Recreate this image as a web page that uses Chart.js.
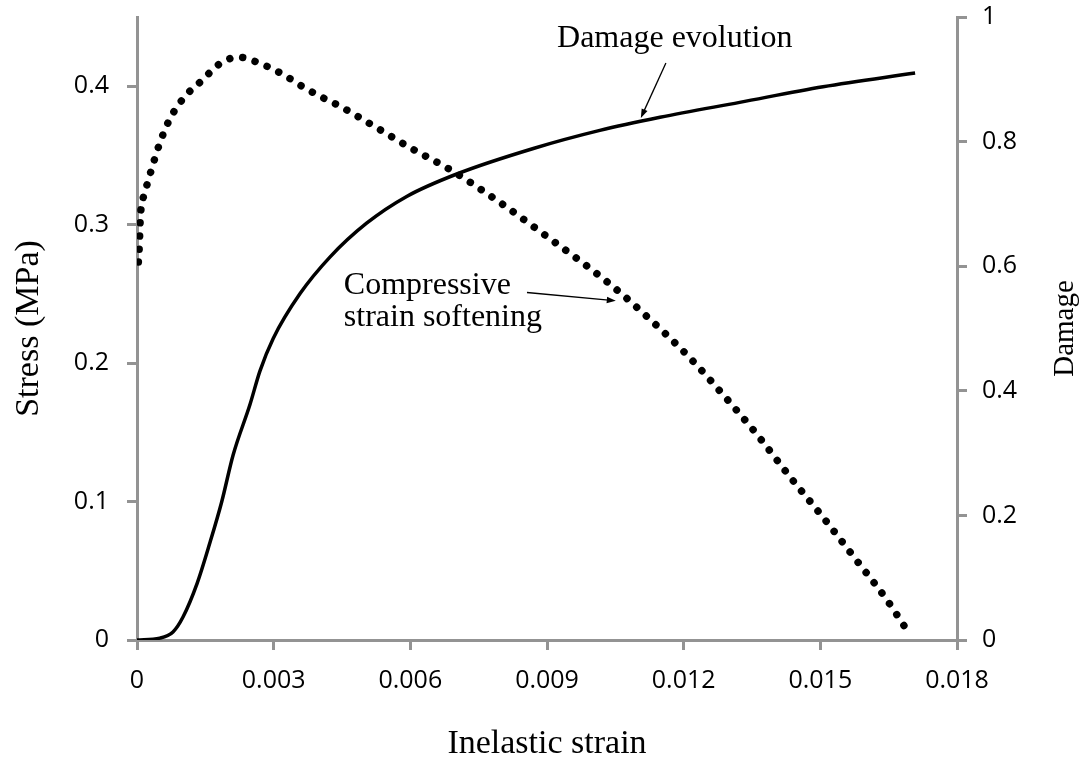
<!DOCTYPE html>
<html>
<head>
<meta charset="utf-8">
<script src="https://cdn.jsdelivr.net/npm/chart.js@4.4.1/dist/chart.umd.min.js"></script>
<style>
  html, body { margin: 0; padding: 0; background: #fff; }
  #wrap { width: 1087px; height: 761px; }
</style>
</head>
<body>
<div id="wrap"><canvas id="chart" width="1087" height="761"></canvas></div>
<script>
  const stressStrain = [0.00003, 0.00005, 0.00007, 0.00009, 0.00015, 0.00023, 0.00031, 0.00048, 0.00070, 0.00101,
    0.00142, 0.00185, 0.00224, 0.00266, 0.00318, 0.00367, 0.00418, 0.00443, 0.00516, 0.00592,
    0.00691, 0.00788, 0.00881, 0.01042, 0.01128, 0.01210, 0.01287, 0.01362, 0.01433, 0.01505,
    0.01576, 0.01646, 0.01693];
  const stressValues = [0.273, 0.284, 0.303, 0.312, 0.321, 0.330, 0.339, 0.357, 0.375, 0.391,
    0.404, 0.417, 0.421, 0.417, 0.409, 0.399, 0.390, 0.386, 0.372, 0.357,
    0.339, 0.318, 0.296, 0.256, 0.231, 0.205, 0.177, 0.148, 0.118, 0.089,
    0.059, 0.029, 0.0056];

  const damageStrain = [0, 0.00050, 0.00079, 0.00101, 0.00132, 0.00160, 0.00186, 0.00211, 0.00248, 0.00270,
    0.00299, 0.00358, 0.00424, 0.00504, 0.00592, 0.00702, 0.00870, 0.01016, 0.01148, 0.01323,
    0.01506, 0.01708];
  const damageValues = [0, 0.003, 0.013, 0.037, 0.091, 0.156, 0.222, 0.297, 0.378, 0.432,
    0.484, 0.556, 0.615, 0.669, 0.712, 0.748, 0.789, 0.818, 0.839, 0.863,
    0.888, 0.910];

  const xTicks = [0, 0.003, 0.006, 0.009, 0.012, 0.015, 0.018];
  const stressTicks = [0, 0.1, 0.2, 0.3, 0.4];
  const damageTicks = [0, 0.2, 0.4, 0.6, 0.8, 1];

  const axisGray = '#939393';
  const tickFont = { family: '"Open Sans", sans-serif', size: 25 };
  const serif = '"Liberation Serif", "Times New Roman", serif';

  function fmt(v) {
    if (v === 0) return '0';
    return parseFloat(v.toFixed(3)).toString();
  }

  // no extra room for the end tick labels, plot area is set by hand
  function noPad(axis) {
    axis.paddingTop = 0;
    axis.paddingBottom = 0;
    axis.paddingLeft = 0;
    axis.paddingRight = 0;
  }

  // annotations + right title (reads bottom-to-top like the left one)
  const notes = {
    id: 'notes',
    afterDraw(chart) {
      const ctx = chart.ctx;
      const x = chart.scales.x, yS = chart.scales.yStress, yD = chart.scales.yDamage;
      ctx.save();
      ctx.fillStyle = '#000';
      ctx.font = '32px ' + serif;
      ctx.textAlign = 'left';
      ctx.textBaseline = 'alphabetic';
      ctx.fillText('Damage evolution', x.getPixelForValue(0.00922), yD.getPixelForValue(0.952));
      ctx.fillText('Compressive', x.getPixelForValue(0.00454), yS.getPixelForValue(0.250));
      ctx.fillText('strain softening', x.getPixelForValue(0.00454), yS.getPixelForValue(0.227));

      arrow(ctx, x.getPixelForValue(0.01161), yD.getPixelForValue(0.926),
                 x.getPixelForValue(0.01106), yD.getPixelForValue(0.838));
      arrow(ctx, x.getPixelForValue(0.00856), yS.getPixelForValue(0.251),
                 x.getPixelForValue(0.01051), yS.getPixelForValue(0.245));

      ctx.font = '29px ' + serif;
      ctx.textAlign = 'center';
      ctx.translate(1073, (chart.chartArea.top + chart.chartArea.bottom) / 2);
      ctx.rotate(-Math.PI / 2);
      ctx.fillText('Damage', 0, 0);
      ctx.restore();
    }
  };

  function arrow(ctx, x1, y1, x2, y2) {
    const a = Math.atan2(y2 - y1, x2 - x1);
    const len = 9, w = 3.2;
    ctx.strokeStyle = '#000';
    ctx.lineWidth = 1.3;
    ctx.beginPath();
    ctx.moveTo(x1, y1);
    ctx.lineTo(x2 - Math.cos(a) * len * 0.8, y2 - Math.sin(a) * len * 0.8);
    ctx.stroke();
    ctx.beginPath();
    ctx.moveTo(x2, y2);
    ctx.lineTo(x2 - Math.cos(a) * len - Math.sin(a) * w, y2 - Math.sin(a) * len + Math.cos(a) * w);
    ctx.lineTo(x2 - Math.cos(a) * len + Math.sin(a) * w, y2 - Math.sin(a) * len - Math.cos(a) * w);
    ctx.closePath();
    ctx.fill();
  }

  document.addEventListener('DOMContentLoaded', function() {
    var ctx = document.getElementById('chart').getContext('2d');
    new Chart(ctx, {
      type: 'line',
      data: {
        datasets: [{
          label: 'Compressive strain softening',
          data: stressStrain.map((s, i) => ({ x: s, y: stressValues[i] })),
          yAxisID: 'yStress',
          borderColor: '#000',
          borderWidth: 7.5,
          borderDash: [0.01, 13],
          borderCapStyle: 'round',
          pointRadius: 0,
          cubicInterpolationMode: 'monotone',
          fill: false
        }, {
          label: 'Damage evolution',
          data: damageStrain.map((s, i) => ({ x: s, y: damageValues[i] })),
          yAxisID: 'yDamage',
          borderColor: '#000',
          borderWidth: 3.5,
          pointRadius: 0,
          cubicInterpolationMode: 'monotone',
          fill: false
        }]
      },
      options: {
        responsive: false,
        animation: false,
        events: [],
        layout: { padding: { top: 17, left: 0, right: 0, bottom: 0 } },
        plugins: { legend: { display: false }, tooltip: { enabled: false } },
        scales: {
          x: {
            type: 'linear',
            min: 0, max: 0.018,
            afterBuildTicks: axis => { axis.ticks = xTicks.map(v => ({ value: v })); },
            afterFit: axis => { axis.height = 121; noPad(axis); },
            ticks: { font: tickFont, color: '#000', padding: 16, maxRotation: 0, callback: v => fmt(v) },
            grid: { drawOnChartArea: false, color: axisGray, lineWidth: 3, tickLength: 10 },
            border: { color: axisGray, width: 3 },
            title: { display: true, text: 'Inelastic strain', color: '#000',
                     font: { family: serif, size: 34, lineHeight: 1 }, padding: { top: 0, bottom: 0 } }
          },
          yStress: {
            type: 'linear',
            position: 'left',
            min: 0, max: 0.45,
            afterBuildTicks: axis => { axis.ticks = stressTicks.map(v => ({ value: v })); },
            afterFit: axis => { axis.width = 137; noPad(axis); },
            ticks: { font: tickFont, color: '#000', padding: 18, callback: v => fmt(v) },
            grid: { drawOnChartArea: false, color: axisGray, lineWidth: 3, tickLength: 10 },
            border: { color: axisGray, width: 3 },
            title: { display: true, text: 'Stress (MPa)', color: '#000',
                     font: { family: serif, size: 34, lineHeight: 1 }, padding: { top: 12, bottom: 0 } }
          },
          yDamage: {
            type: 'linear',
            position: 'right',
            min: 0, max: 1,
            afterBuildTicks: axis => { axis.ticks = damageTicks.map(v => ({ value: v })); },
            afterFit: axis => { axis.width = 130; noPad(axis); },
            ticks: { font: tickFont, color: '#000', padding: 15, callback: v => fmt(v) },
            grid: { drawOnChartArea: false, color: axisGray, lineWidth: 3, tickLength: 10 },
            border: { color: axisGray, width: 3 }
          }
        }
      },
      plugins: [notes]
    });
  });
</script>
</body>
</html>
